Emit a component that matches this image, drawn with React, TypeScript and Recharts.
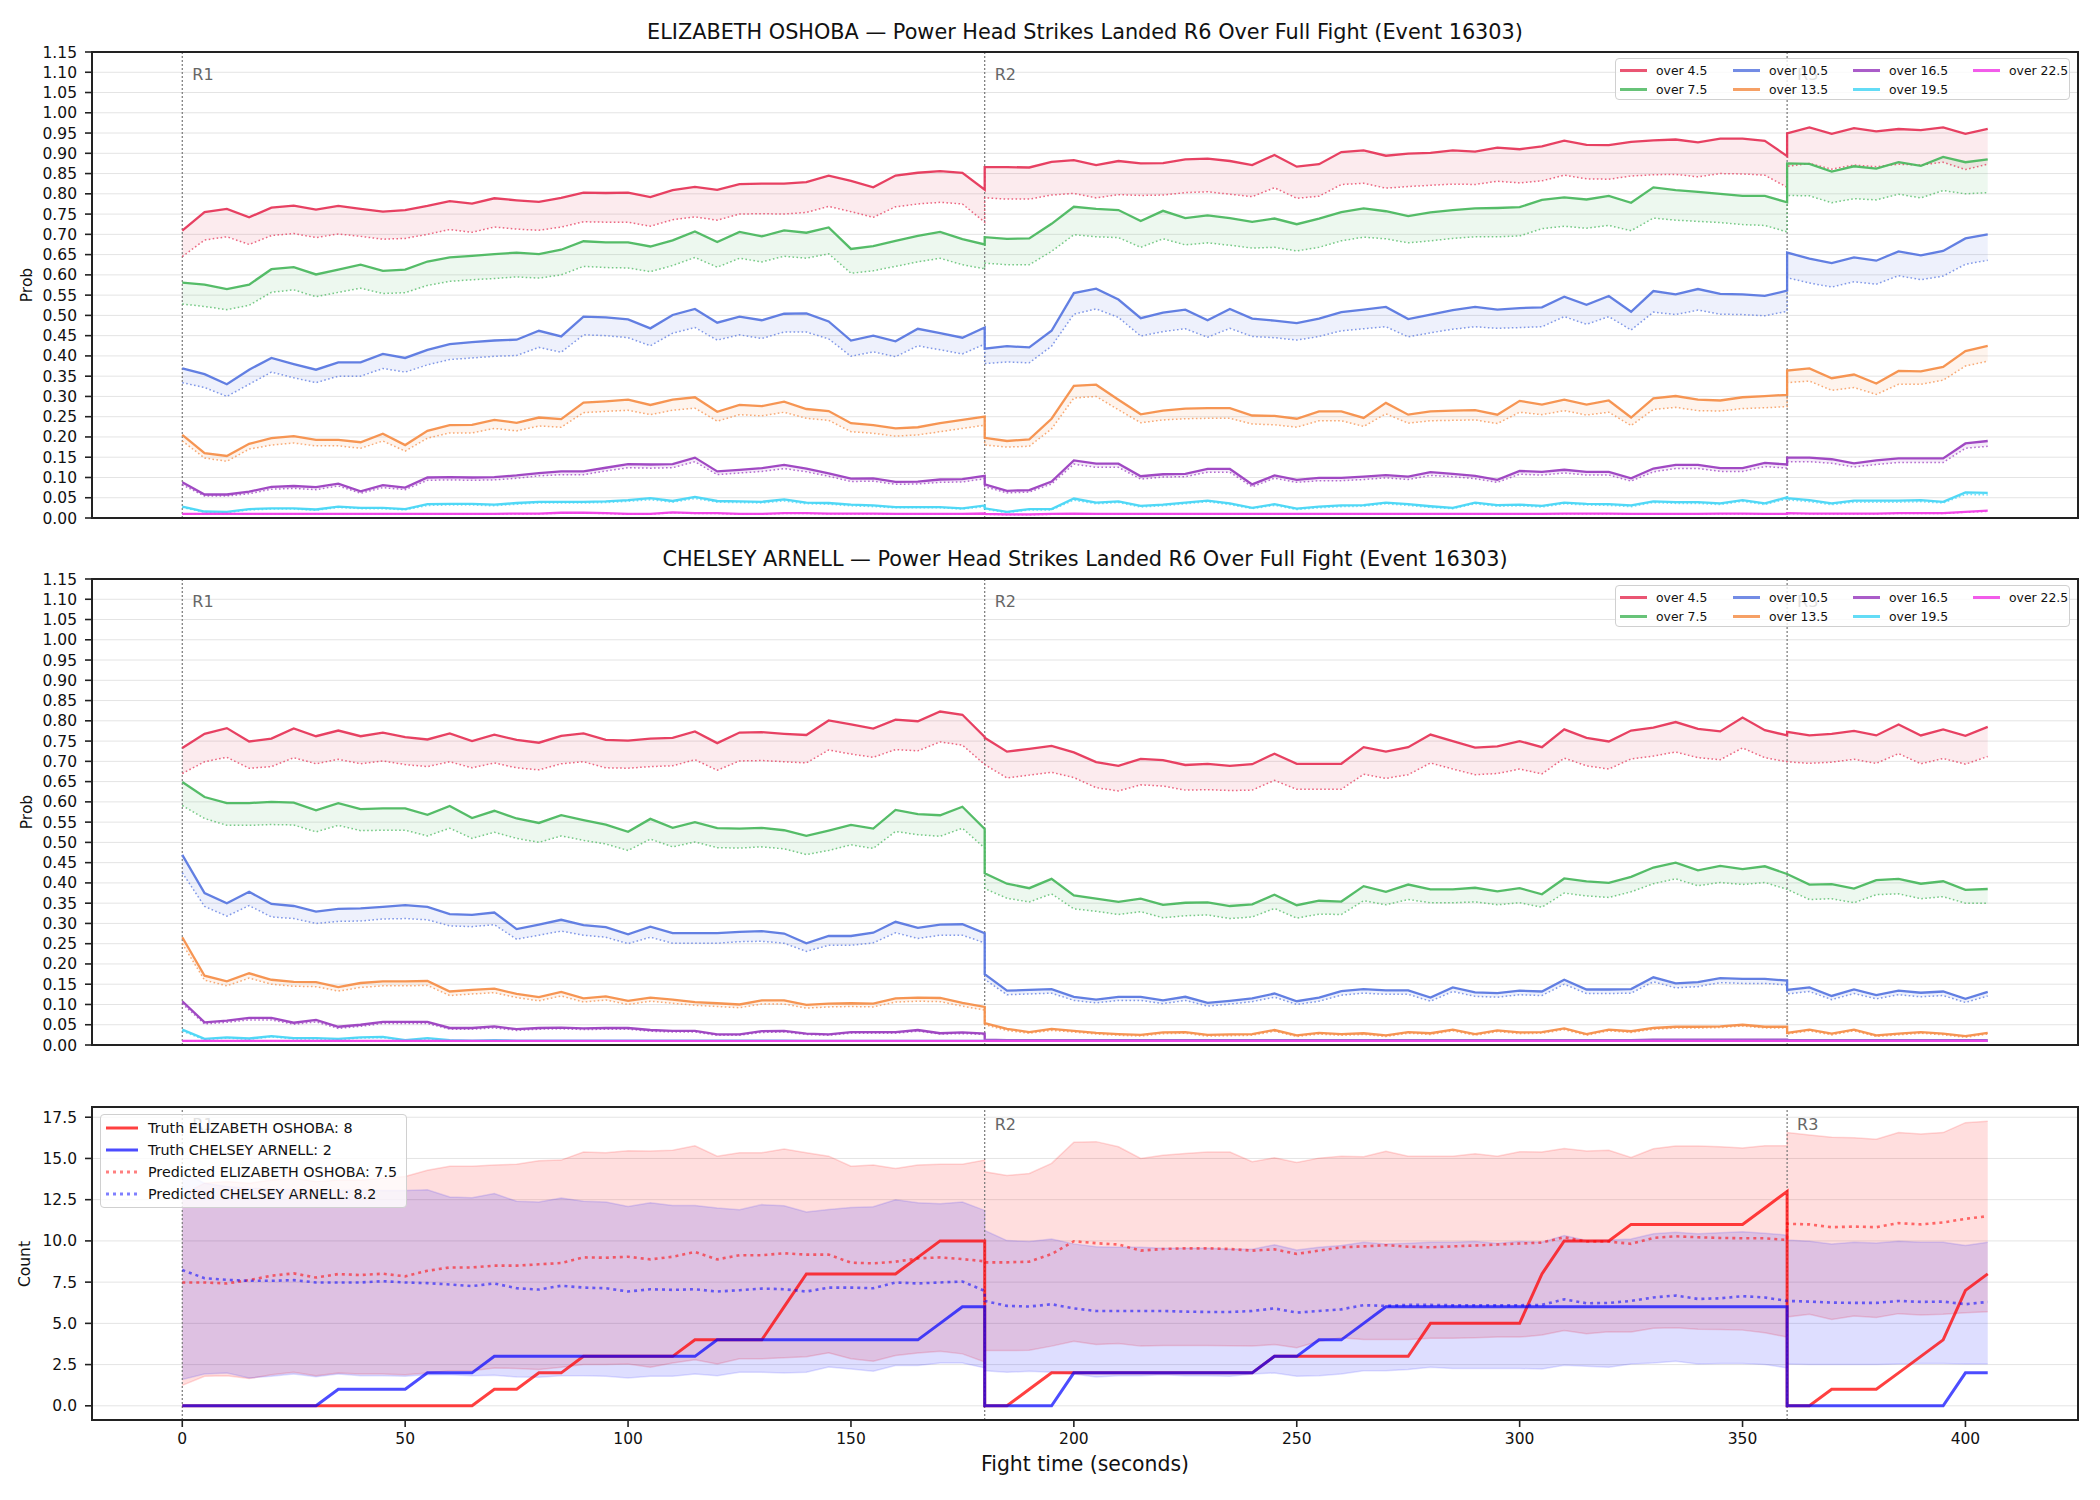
import React from "react";
import { ComposedChart, Line, Area, XAxis, YAxis, CartesianGrid, ReferenceLine } from "recharts";

const FONT = "DejaVu Sans, sans-serif";

// fight time (s): round 1, round 2, round 3 (the boundary seconds appear twice)
const T = [
  0, 5, 10, 15, 20, 25, 30, 35, 40, 45, 50, 55, 60, 65, 70, 75, 80, 85, 90, 95, 100, 105, 110, 115, 120, 125, 130, 135, 140, 145, 150, 155, 160, 165, 170, 175, 180,
  180, 185, 190, 195, 200, 205, 210, 215, 220, 225, 230, 235, 240, 245, 250, 255, 260, 265, 270, 275, 280, 285, 290, 295, 300, 305, 310, 315, 320, 325, 330, 335, 340, 345, 350, 355, 360,
  360, 365, 370, 375, 380, 385, 390, 395, 400, 405,
];

const THRESHOLDS = ["over 4.5", "over 7.5", "over 10.5", "over 13.5", "over 16.5", "over 19.5", "over 22.5"];
const COLORS = ["#e6375a", "#4cb860", "#5a78e0", "#f58f4a", "#9b3fc0", "#48d6f5", "#f040e6"];

const X_TICKS = [0, 50, 100, 150, 200, 250, 300, 350, 400];
const PROB_TICKS = [0, 0.05, 0.1, 0.15, 0.2, 0.25, 0.3, 0.35, 0.4, 0.45, 0.5, 0.55, 0.6, 0.65, 0.7, 0.75, 0.8, 0.85, 0.9, 0.95, 1.0, 1.05, 1.1, 1.15];
const COUNT_TICKS = [0, 2.5, 5, 7.5, 10, 12.5, 15, 17.5];
const ROUNDS = [0, 180, 360];

// ---- ELIZABETH OSHOBA: solid = market, P = predicted ----
const OS_45 = [
  0.709, 0.755, 0.763, 0.742, 0.766, 0.771, 0.761, 0.77, 0.763, 0.756, 0.76, 0.77, 0.782, 0.776, 0.789, 0.784, 0.78, 0.79, 0.803, 0.802, 0.803, 0.792, 0.809, 0.817, 0.81, 0.824, 0.825, 0.825, 0.829, 0.845, 0.832, 0.816, 0.845, 0.852, 0.856, 0.852, 0.81,
  0.866, 0.866, 0.865, 0.879, 0.883, 0.871, 0.881, 0.875, 0.876, 0.885, 0.887, 0.881, 0.871, 0.896, 0.867, 0.873, 0.903, 0.907, 0.894, 0.899, 0.901, 0.907, 0.904, 0.914, 0.91, 0.917, 0.931, 0.921, 0.92, 0.928, 0.932, 0.934, 0.927, 0.936, 0.936, 0.931, 0.893,
  0.949, 0.964, 0.948, 0.962, 0.954, 0.96, 0.957, 0.964, 0.948, 0.96,
];
const OS_45P = [
  0.645, 0.686, 0.694, 0.675, 0.697, 0.702, 0.692, 0.701, 0.695, 0.688, 0.69, 0.7, 0.712, 0.705, 0.718, 0.713, 0.71, 0.718, 0.731, 0.73, 0.73, 0.72, 0.736, 0.743, 0.735, 0.75, 0.751, 0.75, 0.754, 0.769, 0.756, 0.742, 0.768, 0.775, 0.779, 0.775, 0.73,
  0.79, 0.787, 0.787, 0.797, 0.801, 0.79, 0.798, 0.796, 0.797, 0.803, 0.805, 0.799, 0.793, 0.815, 0.789, 0.794, 0.823, 0.826, 0.814, 0.818, 0.821, 0.824, 0.823, 0.831, 0.827, 0.832, 0.846, 0.837, 0.836, 0.844, 0.847, 0.848, 0.842, 0.85, 0.849, 0.846, 0.816,
  0.868, 0.875, 0.861, 0.871, 0.867, 0.873, 0.871, 0.878, 0.86, 0.873,
];
const OS_75 = [
  0.581, 0.576, 0.565, 0.576, 0.614, 0.619, 0.601, 0.613, 0.625, 0.61, 0.613, 0.633, 0.643, 0.647, 0.651, 0.655, 0.651, 0.662, 0.683, 0.68, 0.68, 0.67, 0.685, 0.707, 0.681, 0.706, 0.695, 0.71, 0.704, 0.717, 0.664, 0.671, 0.684, 0.696, 0.706, 0.688, 0.675,
  0.693, 0.689, 0.69, 0.726, 0.768, 0.763, 0.76, 0.733, 0.758, 0.74, 0.747, 0.74, 0.731, 0.739, 0.725, 0.739, 0.755, 0.764, 0.757, 0.745, 0.754, 0.76, 0.764, 0.765, 0.767, 0.785, 0.791, 0.786, 0.795, 0.778, 0.816, 0.809, 0.805, 0.8, 0.795, 0.795, 0.779,
  0.875, 0.874, 0.855, 0.868, 0.862, 0.878, 0.869, 0.891, 0.878, 0.885,
];
const OS_75P = [
  0.528, 0.522, 0.514, 0.525, 0.557, 0.563, 0.546, 0.557, 0.567, 0.554, 0.556, 0.574, 0.584, 0.588, 0.591, 0.595, 0.592, 0.6, 0.621, 0.618, 0.617, 0.608, 0.623, 0.643, 0.619, 0.641, 0.632, 0.646, 0.641, 0.652, 0.604, 0.61, 0.621, 0.632, 0.641, 0.625, 0.615,
  0.629, 0.625, 0.625, 0.658, 0.699, 0.694, 0.692, 0.668, 0.689, 0.674, 0.679, 0.673, 0.666, 0.668, 0.659, 0.668, 0.684, 0.693, 0.689, 0.679, 0.684, 0.69, 0.694, 0.694, 0.696, 0.714, 0.72, 0.715, 0.722, 0.709, 0.74, 0.735, 0.732, 0.729, 0.724, 0.722, 0.706,
  0.796, 0.795, 0.778, 0.788, 0.785, 0.799, 0.79, 0.808, 0.8, 0.803,
];
const OS_105 = [
  0.369, 0.355, 0.33, 0.366, 0.395, 0.38, 0.366, 0.384, 0.384, 0.405, 0.395, 0.415, 0.429, 0.434, 0.438, 0.44, 0.462, 0.448, 0.497, 0.495, 0.49, 0.468, 0.501, 0.516, 0.482, 0.497, 0.488, 0.504, 0.505, 0.485, 0.438, 0.45, 0.436, 0.467, 0.456, 0.445, 0.47,
  0.418, 0.424, 0.421, 0.462, 0.555, 0.566, 0.539, 0.493, 0.507, 0.514, 0.488, 0.516, 0.492, 0.487, 0.481, 0.492, 0.508, 0.514, 0.521, 0.491, 0.502, 0.513, 0.521, 0.514, 0.518, 0.52, 0.546, 0.526, 0.548, 0.509, 0.56, 0.552, 0.565, 0.553, 0.552, 0.548, 0.561,
  0.655, 0.64, 0.629, 0.643, 0.635, 0.658, 0.648, 0.659, 0.69, 0.7,
];
const OS_105P = [
  0.334, 0.322, 0.3, 0.33, 0.36, 0.346, 0.334, 0.35, 0.35, 0.369, 0.36, 0.378, 0.391, 0.395, 0.399, 0.401, 0.421, 0.409, 0.452, 0.45, 0.445, 0.425, 0.456, 0.47, 0.439, 0.452, 0.443, 0.459, 0.459, 0.442, 0.399, 0.41, 0.398, 0.425, 0.415, 0.405, 0.429,
  0.381, 0.385, 0.383, 0.424, 0.503, 0.516, 0.495, 0.449, 0.46, 0.467, 0.446, 0.468, 0.448, 0.445, 0.439, 0.448, 0.462, 0.467, 0.472, 0.447, 0.457, 0.466, 0.472, 0.468, 0.47, 0.472, 0.497, 0.478, 0.497, 0.464, 0.508, 0.502, 0.513, 0.503, 0.502, 0.499, 0.51,
  0.593, 0.58, 0.57, 0.583, 0.577, 0.598, 0.588, 0.597, 0.626, 0.636,
];
const OS_135 = [
  0.205, 0.16, 0.153, 0.183, 0.197, 0.202, 0.193, 0.193, 0.187, 0.208, 0.18, 0.215, 0.229, 0.23, 0.242, 0.235, 0.248, 0.244, 0.285, 0.288, 0.292, 0.279, 0.292, 0.298, 0.262, 0.279, 0.276, 0.287, 0.269, 0.264, 0.234, 0.229, 0.221, 0.224, 0.234, 0.242, 0.25,
  0.198, 0.19, 0.194, 0.245, 0.326, 0.329, 0.292, 0.256, 0.265, 0.27, 0.271, 0.271, 0.253, 0.252, 0.245, 0.263, 0.263, 0.247, 0.284, 0.255, 0.263, 0.265, 0.266, 0.255, 0.289, 0.28, 0.292, 0.28, 0.29, 0.248, 0.295, 0.301, 0.292, 0.29, 0.298, 0.301, 0.304,
  0.364, 0.369, 0.345, 0.354, 0.332, 0.363, 0.362, 0.373, 0.412, 0.425,
];
const OS_135P = [
  0.19, 0.148, 0.14, 0.17, 0.18, 0.185, 0.178, 0.178, 0.172, 0.19, 0.165, 0.197, 0.21, 0.21, 0.221, 0.215, 0.227, 0.224, 0.26, 0.263, 0.266, 0.255, 0.266, 0.271, 0.239, 0.255, 0.252, 0.261, 0.246, 0.241, 0.213, 0.209, 0.202, 0.205, 0.213, 0.221, 0.229,
  0.18, 0.175, 0.177, 0.22, 0.296, 0.3, 0.267, 0.235, 0.242, 0.245, 0.246, 0.246, 0.232, 0.23, 0.224, 0.24, 0.24, 0.226, 0.257, 0.234, 0.24, 0.241, 0.242, 0.233, 0.261, 0.255, 0.265, 0.254, 0.261, 0.228, 0.268, 0.273, 0.265, 0.264, 0.27, 0.272, 0.275,
  0.334, 0.338, 0.315, 0.322, 0.305, 0.33, 0.33, 0.34, 0.375, 0.387,
];
const OS_165 = [
  0.088, 0.058, 0.058, 0.065, 0.077, 0.079, 0.076, 0.085, 0.066, 0.081, 0.075, 0.1, 0.101, 0.1, 0.101, 0.105, 0.111, 0.115, 0.115, 0.124, 0.133, 0.132, 0.133, 0.149, 0.115, 0.119, 0.123, 0.131, 0.122, 0.11, 0.097, 0.098, 0.089, 0.09, 0.095, 0.096, 0.104,
  0.083, 0.067, 0.069, 0.09, 0.142, 0.134, 0.134, 0.103, 0.108, 0.109, 0.121, 0.121, 0.083, 0.105, 0.094, 0.099, 0.099, 0.102, 0.106, 0.102, 0.113, 0.109, 0.104, 0.094, 0.116, 0.114, 0.119, 0.114, 0.114, 0.098, 0.122, 0.131, 0.131, 0.123, 0.123, 0.136, 0.132,
  0.149, 0.149, 0.145, 0.135, 0.142, 0.147, 0.147, 0.147, 0.184, 0.19,
];
const OS_165P = [
  0.082, 0.054, 0.054, 0.06, 0.071, 0.073, 0.07, 0.079, 0.061, 0.075, 0.07, 0.093, 0.094, 0.093, 0.094, 0.098, 0.104, 0.107, 0.107, 0.116, 0.124, 0.123, 0.124, 0.139, 0.107, 0.111, 0.115, 0.122, 0.114, 0.103, 0.09, 0.091, 0.083, 0.084, 0.088, 0.089, 0.097,
  0.077, 0.062, 0.064, 0.084, 0.133, 0.125, 0.125, 0.096, 0.101, 0.102, 0.113, 0.113, 0.077, 0.098, 0.088, 0.092, 0.092, 0.095, 0.099, 0.095, 0.105, 0.102, 0.097, 0.088, 0.108, 0.106, 0.111, 0.106, 0.106, 0.091, 0.114, 0.122, 0.122, 0.115, 0.115, 0.127, 0.123,
  0.139, 0.139, 0.135, 0.126, 0.132, 0.137, 0.137, 0.137, 0.172, 0.177,
];
const OS_195 = [
  0.028, 0.016, 0.015, 0.022, 0.024, 0.024, 0.021, 0.028, 0.025, 0.025, 0.022, 0.034, 0.035, 0.035, 0.033, 0.037, 0.04, 0.04, 0.04, 0.041, 0.044, 0.049, 0.042, 0.052, 0.042, 0.041, 0.04, 0.046, 0.038, 0.037, 0.033, 0.031, 0.027, 0.027, 0.027, 0.024, 0.031,
  0.024, 0.015, 0.022, 0.022, 0.048, 0.038, 0.041, 0.03, 0.033, 0.038, 0.043, 0.036, 0.025, 0.034, 0.023, 0.028, 0.031, 0.032, 0.038, 0.034, 0.029, 0.025, 0.038, 0.032, 0.033, 0.03, 0.038, 0.035, 0.034, 0.031, 0.041, 0.039, 0.039, 0.036, 0.044, 0.036, 0.051,
  0.049, 0.044, 0.036, 0.043, 0.043, 0.043, 0.044, 0.04, 0.063, 0.062,
];
const OS_195P = [
  0.026, 0.014, 0.013, 0.02, 0.022, 0.022, 0.019, 0.026, 0.023, 0.023, 0.02, 0.031, 0.032, 0.032, 0.03, 0.034, 0.037, 0.037, 0.037, 0.038, 0.041, 0.045, 0.039, 0.048, 0.039, 0.038, 0.037, 0.042, 0.035, 0.034, 0.03, 0.028, 0.025, 0.025, 0.025, 0.022, 0.028,
  0.022, 0.013, 0.02, 0.02, 0.044, 0.035, 0.038, 0.027, 0.03, 0.035, 0.04, 0.033, 0.023, 0.031, 0.021, 0.025, 0.028, 0.029, 0.035, 0.031, 0.026, 0.023, 0.035, 0.029, 0.03, 0.027, 0.035, 0.032, 0.031, 0.028, 0.038, 0.036, 0.036, 0.033, 0.041, 0.033, 0.047,
  0.045, 0.04, 0.033, 0.039, 0.039, 0.039, 0.04, 0.037, 0.058, 0.057,
];
const OS_225 = [
  0.01, 0.01, 0.01, 0.01, 0.01, 0.01, 0.01, 0.01, 0.01, 0.01, 0.01, 0.01, 0.01, 0.01, 0.01, 0.011, 0.011, 0.013, 0.013, 0.012, 0.01, 0.01, 0.014, 0.012, 0.012, 0.01, 0.01, 0.012, 0.012, 0.011, 0.011, 0.011, 0.01, 0.01, 0.01, 0.01, 0.011,
  0.01, 0.009, 0.009, 0.01, 0.011, 0.01, 0.01, 0.01, 0.01, 0.01, 0.01, 0.01, 0.01, 0.01, 0.01, 0.01, 0.01, 0.01, 0.01, 0.01, 0.01, 0.01, 0.01, 0.01, 0.01, 0.01, 0.011, 0.011, 0.011, 0.01, 0.01, 0.01, 0.01, 0.011, 0.011, 0.01, 0.01,
  0.012, 0.011, 0.011, 0.011, 0.011, 0.012, 0.012, 0.012, 0.015, 0.018,
];
const OS_225P = [
  0.009, 0.009, 0.009, 0.009, 0.009, 0.009, 0.009, 0.009, 0.009, 0.009, 0.009, 0.009, 0.009, 0.009, 0.009, 0.01, 0.01, 0.012, 0.012, 0.011, 0.009, 0.009, 0.013, 0.011, 0.011, 0.009, 0.009, 0.011, 0.011, 0.01, 0.01, 0.01, 0.009, 0.009, 0.009, 0.009, 0.01,
  0.009, 0.008, 0.008, 0.009, 0.01, 0.009, 0.009, 0.009, 0.009, 0.009, 0.009, 0.009, 0.009, 0.009, 0.009, 0.009, 0.009, 0.009, 0.009, 0.009, 0.009, 0.009, 0.009, 0.009, 0.009, 0.009, 0.01, 0.01, 0.01, 0.009, 0.009, 0.009, 0.009, 0.01, 0.01, 0.009, 0.009,
  0.011, 0.01, 0.01, 0.01, 0.01, 0.011, 0.011, 0.011, 0.014, 0.016,
];

// ---- CHELSEY ARNELL ----
const CH_45 = [
  0.733, 0.768, 0.782, 0.749, 0.756, 0.781, 0.762, 0.776, 0.762, 0.771, 0.76, 0.754, 0.769, 0.75, 0.766, 0.753, 0.746, 0.763, 0.769, 0.753, 0.751, 0.756, 0.758, 0.774, 0.745, 0.771, 0.772, 0.768, 0.765, 0.801, 0.791, 0.781, 0.803, 0.799, 0.823, 0.815, 0.76,
  0.758, 0.724, 0.731, 0.738, 0.722, 0.698, 0.689, 0.706, 0.703, 0.691, 0.694, 0.689, 0.693, 0.719, 0.694, 0.694, 0.694, 0.735, 0.724, 0.735, 0.766, 0.75, 0.734, 0.737, 0.75, 0.735, 0.779, 0.758, 0.749, 0.776, 0.783, 0.797, 0.78, 0.774, 0.808, 0.777, 0.764,
  0.773, 0.764, 0.768, 0.775, 0.764, 0.791, 0.764, 0.779, 0.763, 0.785,
];
const CH_45P = [
  0.67, 0.699, 0.71, 0.683, 0.687, 0.709, 0.694, 0.705, 0.694, 0.701, 0.692, 0.687, 0.699, 0.684, 0.696, 0.684, 0.679, 0.694, 0.699, 0.684, 0.683, 0.687, 0.689, 0.704, 0.678, 0.701, 0.702, 0.699, 0.696, 0.728, 0.718, 0.71, 0.729, 0.726, 0.748, 0.74, 0.692,
  0.692, 0.659, 0.666, 0.673, 0.66, 0.635, 0.627, 0.642, 0.639, 0.629, 0.63, 0.628, 0.629, 0.653, 0.631, 0.631, 0.631, 0.668, 0.658, 0.667, 0.696, 0.681, 0.667, 0.67, 0.681, 0.669, 0.708, 0.689, 0.681, 0.706, 0.713, 0.723, 0.709, 0.704, 0.733, 0.709, 0.699,
  0.699, 0.695, 0.698, 0.705, 0.695, 0.719, 0.694, 0.707, 0.693, 0.712,
];
const CH_75 = [
  0.649, 0.612, 0.597, 0.597, 0.6, 0.598, 0.579, 0.597, 0.582, 0.584, 0.584, 0.568, 0.59, 0.56, 0.578, 0.559, 0.548, 0.567, 0.555, 0.544, 0.526, 0.558, 0.536, 0.55, 0.535, 0.534, 0.536, 0.53, 0.516, 0.529, 0.543, 0.534, 0.58, 0.57, 0.567, 0.588, 0.533,
  0.424, 0.398, 0.387, 0.41, 0.369, 0.361, 0.353, 0.361, 0.346, 0.351, 0.352, 0.343, 0.347, 0.371, 0.345, 0.356, 0.354, 0.392, 0.378, 0.396, 0.384, 0.384, 0.388, 0.379, 0.387, 0.372, 0.411, 0.404, 0.4, 0.415, 0.438, 0.45, 0.431, 0.442, 0.434, 0.441, 0.422,
  0.422, 0.396, 0.397, 0.386, 0.407, 0.41, 0.398, 0.404, 0.383, 0.385,
];
const CH_75P = [
  0.591, 0.559, 0.542, 0.542, 0.544, 0.543, 0.526, 0.542, 0.529, 0.53, 0.53, 0.516, 0.535, 0.51, 0.525, 0.51, 0.5, 0.516, 0.505, 0.496, 0.48, 0.508, 0.489, 0.501, 0.487, 0.486, 0.489, 0.484, 0.47, 0.48, 0.494, 0.485, 0.527, 0.519, 0.515, 0.535, 0.486,
  0.386, 0.362, 0.353, 0.373, 0.336, 0.33, 0.322, 0.329, 0.314, 0.319, 0.321, 0.312, 0.316, 0.337, 0.313, 0.323, 0.322, 0.356, 0.346, 0.359, 0.351, 0.351, 0.353, 0.346, 0.351, 0.34, 0.375, 0.368, 0.364, 0.378, 0.398, 0.41, 0.393, 0.401, 0.396, 0.401, 0.384,
  0.384, 0.359, 0.361, 0.351, 0.371, 0.373, 0.361, 0.366, 0.35, 0.35,
];
const CH_105 = [
  0.469, 0.375, 0.35, 0.378, 0.348, 0.343, 0.329, 0.336, 0.337, 0.341, 0.345, 0.341, 0.323, 0.321, 0.327, 0.286, 0.297, 0.309, 0.296, 0.291, 0.273, 0.292, 0.276, 0.276, 0.276, 0.279, 0.281, 0.275, 0.251, 0.269, 0.269, 0.277, 0.304, 0.289, 0.297, 0.298, 0.276,
  0.175, 0.134, 0.136, 0.138, 0.119, 0.112, 0.119, 0.119, 0.11, 0.119, 0.104, 0.109, 0.115, 0.127, 0.108, 0.117, 0.133, 0.138, 0.135, 0.135, 0.117, 0.142, 0.13, 0.128, 0.134, 0.132, 0.161, 0.137, 0.137, 0.138, 0.167, 0.152, 0.155, 0.165, 0.163, 0.163, 0.159,
  0.136, 0.142, 0.121, 0.137, 0.123, 0.134, 0.129, 0.132, 0.114, 0.131,
];
const CH_105P = [
  0.425, 0.342, 0.318, 0.344, 0.316, 0.312, 0.3, 0.305, 0.306, 0.311, 0.312, 0.309, 0.294, 0.292, 0.297, 0.261, 0.271, 0.281, 0.271, 0.266, 0.25, 0.266, 0.251, 0.251, 0.251, 0.255, 0.256, 0.251, 0.231, 0.246, 0.246, 0.252, 0.277, 0.263, 0.271, 0.271, 0.252,
  0.162, 0.124, 0.126, 0.128, 0.11, 0.104, 0.11, 0.11, 0.102, 0.11, 0.096, 0.101, 0.107, 0.118, 0.1, 0.108, 0.123, 0.128, 0.125, 0.125, 0.108, 0.132, 0.12, 0.118, 0.124, 0.122, 0.15, 0.127, 0.127, 0.128, 0.156, 0.141, 0.144, 0.154, 0.152, 0.152, 0.148,
  0.126, 0.132, 0.112, 0.127, 0.114, 0.124, 0.119, 0.122, 0.105, 0.121,
];
const CH_135 = [
  0.266, 0.171, 0.157, 0.177, 0.161, 0.156, 0.155, 0.143, 0.153, 0.157, 0.157, 0.158, 0.132, 0.136, 0.139, 0.126, 0.118, 0.131, 0.115, 0.12, 0.109, 0.117, 0.112, 0.106, 0.103, 0.1, 0.11, 0.11, 0.099, 0.102, 0.103, 0.102, 0.115, 0.117, 0.116, 0.104, 0.094,
  0.054, 0.04, 0.032, 0.04, 0.035, 0.03, 0.027, 0.025, 0.031, 0.032, 0.025, 0.026, 0.027, 0.037, 0.024, 0.03, 0.027, 0.029, 0.024, 0.032, 0.029, 0.038, 0.027, 0.036, 0.031, 0.032, 0.041, 0.027, 0.038, 0.034, 0.042, 0.045, 0.045, 0.046, 0.05, 0.045, 0.045,
  0.03, 0.038, 0.028, 0.038, 0.024, 0.028, 0.032, 0.028, 0.022, 0.03,
];
const CH_135P = [
  0.25, 0.16, 0.146, 0.165, 0.15, 0.145, 0.144, 0.133, 0.142, 0.146, 0.146, 0.147, 0.122, 0.126, 0.129, 0.117, 0.109, 0.121, 0.106, 0.111, 0.1, 0.108, 0.103, 0.098, 0.095, 0.092, 0.101, 0.101, 0.091, 0.094, 0.095, 0.094, 0.106, 0.108, 0.107, 0.096, 0.086,
  0.05, 0.036, 0.029, 0.036, 0.032, 0.027, 0.024, 0.022, 0.028, 0.029, 0.022, 0.023, 0.024, 0.034, 0.021, 0.027, 0.024, 0.026, 0.021, 0.029, 0.026, 0.035, 0.024, 0.033, 0.028, 0.029, 0.038, 0.024, 0.035, 0.031, 0.039, 0.042, 0.042, 0.043, 0.047, 0.042, 0.042,
  0.027, 0.035, 0.025, 0.035, 0.021, 0.025, 0.029, 0.025, 0.019, 0.027,
];
const CH_165 = [
  0.108, 0.056, 0.06, 0.067, 0.067, 0.055, 0.062, 0.045, 0.05, 0.057, 0.057, 0.057, 0.042, 0.042, 0.046, 0.039, 0.042, 0.043, 0.041, 0.042, 0.042, 0.037, 0.035, 0.035, 0.026, 0.026, 0.034, 0.035, 0.028, 0.026, 0.032, 0.032, 0.032, 0.037, 0.029, 0.031, 0.028,
  0.013, 0.012, 0.012, 0.012, 0.012, 0.012, 0.012, 0.012, 0.012, 0.012, 0.012, 0.012, 0.012, 0.012, 0.012, 0.012, 0.012, 0.012, 0.012, 0.012, 0.012, 0.012, 0.012, 0.012, 0.012, 0.012, 0.012, 0.012, 0.012, 0.012, 0.013, 0.013, 0.013, 0.013, 0.013, 0.013, 0.013,
  0.012, 0.012, 0.012, 0.012, 0.012, 0.012, 0.012, 0.012, 0.012, 0.012,
];
const CH_165P = [
  0.102, 0.052, 0.056, 0.062, 0.062, 0.051, 0.057, 0.041, 0.046, 0.053, 0.053, 0.053, 0.039, 0.039, 0.042, 0.036, 0.039, 0.04, 0.038, 0.039, 0.039, 0.034, 0.032, 0.032, 0.024, 0.024, 0.031, 0.032, 0.026, 0.024, 0.029, 0.029, 0.029, 0.034, 0.027, 0.028, 0.026,
  0.011, 0.011, 0.011, 0.011, 0.011, 0.011, 0.011, 0.011, 0.011, 0.011, 0.011, 0.011, 0.011, 0.011, 0.011, 0.011, 0.011, 0.011, 0.011, 0.011, 0.011, 0.011, 0.011, 0.011, 0.011, 0.011, 0.011, 0.011, 0.011, 0.011, 0.012, 0.012, 0.012, 0.012, 0.012, 0.012, 0.012,
  0.011, 0.011, 0.011, 0.011, 0.011, 0.011, 0.011, 0.011, 0.011, 0.011,
];
const CH_195 = [
  0.038, 0.015, 0.019, 0.016, 0.022, 0.017, 0.017, 0.015, 0.019, 0.02, 0.012, 0.017, 0.012, 0.011, 0.012, 0.011, 0.011, 0.011, 0.011, 0.011, 0.011, 0.011, 0.011, 0.011, 0.011, 0.011, 0.011, 0.011, 0.01, 0.01, 0.01, 0.01, 0.01, 0.01, 0.01, 0.01, 0.01,
  0.01, 0.01, 0.01, 0.01, 0.01, 0.01, 0.01, 0.01, 0.01, 0.01, 0.01, 0.01, 0.01, 0.01, 0.01, 0.01, 0.01, 0.01, 0.01, 0.01, 0.01, 0.01, 0.01, 0.01, 0.01, 0.01, 0.01, 0.01, 0.01, 0.01, 0.01, 0.01, 0.01, 0.01, 0.01, 0.01, 0.01,
  0.01, 0.01, 0.01, 0.01, 0.01, 0.01, 0.01, 0.01, 0.01, 0.01,
];
const CH_195P = [
  0.034, 0.013, 0.017, 0.014, 0.02, 0.015, 0.015, 0.013, 0.017, 0.018, 0.011, 0.015, 0.011, 0.01, 0.011, 0.01, 0.01, 0.01, 0.01, 0.01, 0.01, 0.01, 0.01, 0.01, 0.01, 0.01, 0.01, 0.01, 0.009, 0.009, 0.009, 0.009, 0.009, 0.009, 0.009, 0.009, 0.009,
  0.009, 0.009, 0.009, 0.009, 0.009, 0.009, 0.009, 0.009, 0.009, 0.009, 0.009, 0.009, 0.009, 0.009, 0.009, 0.009, 0.009, 0.009, 0.009, 0.009, 0.009, 0.009, 0.009, 0.009, 0.009, 0.009, 0.009, 0.009, 0.009, 0.009, 0.009, 0.009, 0.009, 0.009, 0.009, 0.009, 0.009,
  0.009, 0.009, 0.009, 0.009, 0.009, 0.009, 0.009, 0.009, 0.009, 0.009,
];
const CH_225 = [
  0.01, 0.01, 0.01, 0.01, 0.01, 0.01, 0.01, 0.01, 0.01, 0.01, 0.01, 0.01, 0.01, 0.01, 0.01, 0.01, 0.01, 0.01, 0.01, 0.01, 0.01, 0.01, 0.01, 0.01, 0.01, 0.01, 0.01, 0.01, 0.01, 0.01, 0.01, 0.01, 0.01, 0.01, 0.01, 0.01, 0.01,
  0.01, 0.01, 0.01, 0.01, 0.01, 0.01, 0.01, 0.01, 0.01, 0.01, 0.01, 0.01, 0.01, 0.01, 0.01, 0.01, 0.01, 0.01, 0.01, 0.01, 0.01, 0.01, 0.01, 0.01, 0.01, 0.01, 0.01, 0.01, 0.01, 0.01, 0.01, 0.01, 0.01, 0.01, 0.01, 0.01, 0.01,
  0.01, 0.01, 0.01, 0.01, 0.01, 0.01, 0.01, 0.01, 0.01, 0.01,
];
const CH_225P = [
  0.009, 0.009, 0.009, 0.009, 0.009, 0.009, 0.009, 0.009, 0.009, 0.009, 0.009, 0.009, 0.009, 0.009, 0.009, 0.009, 0.009, 0.009, 0.009, 0.009, 0.009, 0.009, 0.009, 0.009, 0.009, 0.009, 0.009, 0.009, 0.009, 0.009, 0.009, 0.009, 0.009, 0.009, 0.009, 0.009, 0.009,
  0.009, 0.009, 0.009, 0.009, 0.009, 0.009, 0.009, 0.009, 0.009, 0.009, 0.009, 0.009, 0.009, 0.009, 0.009, 0.009, 0.009, 0.009, 0.009, 0.009, 0.009, 0.009, 0.009, 0.009, 0.009, 0.009, 0.009, 0.009, 0.009, 0.009, 0.009, 0.009, 0.009, 0.009, 0.009, 0.009, 0.009,
  0.009, 0.009, 0.009, 0.009, 0.009, 0.009, 0.009, 0.009, 0.009, 0.009,
];

// ---- bottom panel: counts ----
const TRUTH_O = [
  0, 0, 0, 0, 0, 0, 0, 0, 0, 0, 0, 0, 0, 0, 1, 1, 2, 2, 3, 3, 3, 3, 3, 4, 4, 4, 4, 6, 8, 8, 8, 8, 8, 9, 10, 10, 10,
  0, 0, 1, 2, 2, 2, 2, 2, 2, 2, 2, 2, 2, 3, 3, 3, 3, 3, 3, 3, 5, 5, 5, 5, 5, 8, 10, 10, 10, 11, 11, 11, 11, 11, 11, 12, 13,
  0, 0, 1, 1, 1, 2, 3, 4, 7, 8,
];
const TRUTH_C = [
  0, 0, 0, 0, 0, 0, 0, 1, 1, 1, 1, 2, 2, 2, 3, 3, 3, 3, 3, 3, 3, 3, 3, 3, 4, 4, 4, 4, 4, 4, 4, 4, 4, 4, 5, 6, 6,
  0, 0, 0, 0, 2, 2, 2, 2, 2, 2, 2, 2, 2, 3, 3, 4, 4, 5, 6, 6, 6, 6, 6, 6, 6, 6, 6, 6, 6, 6, 6, 6, 6, 6, 6, 6, 6,
  0, 0, 0, 0, 0, 0, 0, 0, 2, 2,
];
const PRED_O = [
  7.48, 7.48, 7.42, 7.62, 7.89, 8.03, 7.78, 7.99, 7.93, 8.01, 7.85, 8.19, 8.39, 8.39, 8.5, 8.5, 8.58, 8.66, 9.0, 8.98, 9.04, 8.88, 9.04, 9.33, 8.88, 9.13, 9.13, 9.25, 9.17, 9.17, 8.68, 8.64, 8.74, 8.94, 9.0, 8.9, 8.76,
  8.7, 8.7, 8.74, 9.2, 9.98, 9.86, 9.78, 9.41, 9.51, 9.55, 9.55, 9.51, 9.41, 9.49, 9.21, 9.41, 9.61, 9.67, 9.74, 9.65, 9.61, 9.67, 9.72, 9.78, 9.84, 9.9, 10.22, 9.96, 9.96, 9.82, 10.18, 10.28, 10.22, 10.18, 10.16, 10.16, 10.06,
  11.04, 11.0, 10.83, 10.87, 10.83, 11.08, 11.0, 11.12, 11.34, 11.5,
];
const PRED_C = [
  8.23, 7.74, 7.64, 7.58, 7.58, 7.62, 7.48, 7.48, 7.48, 7.56, 7.48, 7.44, 7.36, 7.26, 7.42, 7.13, 7.05, 7.28, 7.17, 7.13, 6.93, 7.07, 7.03, 7.07, 6.93, 7.01, 7.11, 7.07, 6.93, 7.17, 7.17, 7.13, 7.48, 7.42, 7.48, 7.54, 6.97,
  6.36, 6.06, 6.02, 6.16, 5.91, 5.75, 5.75, 5.75, 5.75, 5.71, 5.69, 5.69, 5.75, 5.91, 5.65, 5.75, 5.85, 6.1, 6.06, 6.12, 6.12, 6.1, 6.1, 6.1, 6.1, 6.12, 6.46, 6.22, 6.24, 6.36, 6.57, 6.69, 6.48, 6.52, 6.65, 6.57, 6.36,
  6.36, 6.32, 6.26, 6.24, 6.24, 6.36, 6.3, 6.32, 6.16, 6.3,
];
const BAND_O_HI = [
  12.8, 13.5, 13.6, 13.5, 13.7, 13.8, 13.6, 13.7, 13.7, 13.8, 13.9, 14.29, 14.53, 14.53, 14.6, 14.65, 14.86, 14.9, 15.39, 15.35, 15.47, 15.45, 15.5, 15.77, 15.14, 15.35, 15.35, 15.57, 15.35, 15.14, 14.53, 14.6, 14.39, 14.6, 14.65, 14.65, 14.9,
  14.19, 13.96, 14.09, 14.7, 15.98, 16.02, 15.71, 15.0, 15.2, 15.3, 15.39, 15.39, 14.8, 15.04, 14.76, 15.02, 15.14, 15.1, 15.43, 15.14, 15.14, 15.14, 15.28, 15.14, 15.41, 15.39, 15.61, 15.45, 15.49, 15.06, 15.59, 15.75, 15.75, 15.71, 15.63, 15.77, 15.77,
  16.57, 16.42, 16.28, 16.26, 16.16, 16.57, 16.48, 16.57, 17.17, 17.26,
];
const BAND_O_LO = [
  1.24, 1.79, 1.83, 1.65, 1.89, 2.03, 1.83, 1.99, 1.93, 1.93, 1.89, 1.99, 2.13, 2.13, 2.3, 2.26, 2.2, 2.34, 2.5, 2.5, 2.54, 2.34, 2.6, 2.8, 2.54, 2.85, 2.85, 2.91, 2.97, 3.21, 2.85, 2.7, 3.05, 3.21, 3.31, 3.15, 2.66,
  3.35, 3.35, 3.37, 3.62, 3.92, 3.72, 3.78, 3.62, 3.66, 3.66, 3.66, 3.64, 3.62, 3.72, 3.52, 3.92, 4.13, 4.02, 4.02, 4.02, 4.09, 4.09, 4.13, 4.17, 4.17, 4.29, 4.57, 4.37, 4.49, 4.47, 4.7, 4.74, 4.65, 4.63, 4.59, 4.43, 4.17,
  5.39, 5.55, 5.24, 5.45, 5.35, 5.59, 5.51, 5.55, 5.65, 5.71,
];
const BAND_C_HI = [
  14.2, 13.5, 13.3, 13.2, 13.15, 13.1, 13.05, 13.05, 13.1, 13.05, 13.05, 13.1, 12.66, 12.62, 12.87, 12.4, 12.36, 12.6, 12.4, 12.36, 12.09, 12.32, 12.15, 12.15, 11.99, 11.89, 12.2, 12.13, 11.75, 11.91, 12.03, 12.07, 12.5, 12.32, 12.26, 12.36, 11.85,
  10.63, 10.02, 9.96, 10.12, 9.82, 9.65, 9.61, 9.61, 9.55, 9.55, 9.55, 9.51, 9.49, 9.76, 9.45, 9.61, 9.72, 9.92, 9.82, 9.86, 9.92, 9.92, 9.96, 9.86, 9.96, 9.92, 10.33, 10.02, 10.06, 10.12, 10.43, 10.53, 10.43, 10.49, 10.55, 10.47, 10.35,
  10.06, 9.98, 9.82, 9.92, 9.88, 9.98, 9.92, 9.92, 9.72, 9.92,
];
const BAND_C_LO = [
  1.59, 1.93, 1.99, 1.69, 1.79, 1.93, 1.77, 1.93, 1.83, 1.83, 1.79, 1.89, 1.89, 1.83, 1.85, 1.75, 1.73, 1.83, 1.83, 1.79, 1.69, 1.79, 1.79, 1.93, 1.83, 2.03, 2.03, 1.99, 2.03, 2.36, 2.24, 2.09, 2.44, 2.44, 2.6, 2.6, 2.3,
  2.13, 2.03, 2.09, 2.03, 1.93, 1.75, 1.83, 1.83, 1.89, 1.83, 1.83, 1.79, 1.93, 1.99, 1.79, 1.83, 1.93, 2.13, 2.13, 2.2, 2.34, 2.26, 2.26, 2.26, 2.26, 2.24, 2.46, 2.4, 2.34, 2.54, 2.6, 2.7, 2.54, 2.56, 2.56, 2.5, 2.3,
  2.54, 2.5, 2.5, 2.5, 2.5, 2.54, 2.56, 2.56, 2.54, 2.54,
];

const OS_SOLID = [OS_45, OS_75, OS_105, OS_135, OS_165, OS_195, OS_225];
const OS_PRED = [OS_45P, OS_75P, OS_105P, OS_135P, OS_165P, OS_195P, OS_225P];
const CH_SOLID = [CH_45, CH_75, CH_105, CH_135, CH_165, CH_195, CH_225];
const CH_PRED = [CH_45P, CH_75P, CH_105P, CH_135P, CH_165P, CH_195P, CH_225P];

function probRows(solid: number[][], pred: number[][]) {
  return T.map((t, i) => {
    const r: Record<string, any> = { t };
    solid.forEach((s, k) => {
      r["s" + k] = s[i];
      r["p" + k] = pred[k][i];
      r["b" + k] = [pred[k][i], s[i]];
    });
    return r;
  });
}

const countRows = T.map((t, i) => ({
  t,
  to: TRUTH_O[i],
  tc: TRUTH_C[i],
  po: PRED_O[i],
  pc: PRED_C[i],
  bo: [BAND_O_LO[i], BAND_O_HI[i]],
  bc: [BAND_C_LO[i], BAND_C_HI[i]],
}));

const X_DOMAIN: [number, number] = [-20.25, 425.25];
const PLOT_L = 92;
const PLOT_R = 2078;
const AXIS = { stroke: "#222", strokeWidth: 2 };
const TICKLINE = { stroke: "#222", strokeWidth: 1.6 };
const TICKTXT = { fill: "#111", fontSize: 15.5, fontFamily: FONT };

const roundLabel = (text: string, dy: number) => (p: any) => {
  const vb = p && p.viewBox ? p.viewBox : { x: 0, y: 0 };
  return (
    <text x={vb.x + 10} y={vb.y + dy} fill="#666" fontSize={16} fontFamily={FONT}>
      {text}
    </text>
  );
};

// the four-sided axes box drawn round a plot area
function AxesBox({ top, height }: { top: number; height: number }) {
  return (
    <div
      style={{
        position: "absolute",
        left: PLOT_L - 1,
        top: top - 1,
        width: PLOT_R - PLOT_L + 2,
        height: height + 2,
        boxSizing: "border-box",
        border: "2px solid #222",
        pointerEvents: "none",
      }}
    />
  );
}

function ProbPanel({ plotTop, title, rows }: { plotTop: number; title: string; rows: any[] }) {
  const plotH = 466;
  const mt = 20;
  const xh = 30;
  return (
    <>
      <div style={{ position: "absolute", left: PLOT_L, width: PLOT_R - PLOT_L, top: plotTop - 30.5, textAlign: "center", fontSize: 20.8, lineHeight: 1, color: "#111", whiteSpace: "nowrap" }}>
        {title}
      </div>
      <div style={{ position: "absolute", left: 27.5, top: plotTop + plotH / 2, transform: "translate(-50%,-50%) rotate(-90deg)", fontSize: 15.5, lineHeight: 1, color: "#111" }}>
        Prob
      </div>
      <div style={{ position: "absolute", left: 0, top: plotTop - mt }}>
        <ComposedChart width={2100} height={plotH + mt + xh} data={rows} margin={{ top: mt, right: 22, bottom: 0, left: 22 }}>
          <CartesianGrid vertical={false} stroke="#e4e4e4" strokeWidth={1} />
          <XAxis dataKey="t" type="number" domain={X_DOMAIN} ticks={X_TICKS} allowDataOverflow height={xh} tick={false} tickSize={7} tickLine={TICKLINE} axisLine={AXIS} />
          <YAxis type="number" domain={[0, 1.15]} ticks={PROB_TICKS} interval={0} allowDataOverflow width={70} tickSize={7} tickMargin={8} tickFormatter={(v: number) => v.toFixed(2)} tick={TICKTXT} tickLine={TICKLINE} axisLine={AXIS} />
          {COLORS.map((c, k) => (
            <Area key={"b" + k} dataKey={"b" + k} type="linear" stroke="none" fill={c} fillOpacity={0.1} isAnimationActive={false} />
          ))}
          {ROUNDS.map((x, i) => (
            <ReferenceLine key={"r" + x} x={x} stroke="#777" strokeWidth={1.2} strokeDasharray="2 2" label={roundLabel("R" + (i + 1), 28)} />
          ))}
          {COLORS.map((c, k) => (
            <Line key={"p" + k} dataKey={"p" + k} type="linear" stroke={c} strokeOpacity={0.75} strokeWidth={1.5} strokeDasharray="1.6 2.4" dot={false} isAnimationActive={false} />
          ))}
          {COLORS.map((c, k) => (
            <Line key={"s" + k} dataKey={"s" + k} type="linear" stroke={c} strokeOpacity={0.95} strokeWidth={2.3} dot={false} isAnimationActive={false} />
          ))}
        </ComposedChart>
      </div>
      <AxesBox top={plotTop} height={plotH} />
      <div style={{ position: "absolute", left: 1615, top: plotTop + 5.5, width: 455, height: 42, boxSizing: "border-box", border: "1.5px solid #d0d0d0", borderRadius: 4, background: "rgba(255,255,255,0.8)" }}>
        {THRESHOLDS.map((name, k) => {
          const col = Math.floor(k / 2);
          const row = k % 2;
          const lineX = [4, 117, 237, 357][col];
          return (
            <div key={name} style={{ position: "absolute", left: lineX, top: row === 0 ? 5 : 24, height: 14, display: "flex", alignItems: "center", fontSize: 12.4, color: "#111", whiteSpace: "nowrap" }}>
              <span style={{ display: "inline-block", width: 27, height: 2.6, background: COLORS[k], opacity: 0.85, marginRight: 9 }} />
              {name}
            </div>
          );
        })}
      </div>
    </>
  );
}

function CountPanel() {
  const plotTop = 1107;
  const plotH = 313;
  const mt = 20;
  const xh = 50;
  const items = [
    { label: "Truth ELIZABETH OSHOBA: 8", color: "#ff0000", op: 0.75, dotted: false },
    { label: "Truth CHELSEY ARNELL: 2", color: "#0000ff", op: 0.7, dotted: false },
    { label: "Predicted ELIZABETH OSHOBA: 7.5", color: "#ff0000", op: 0.5, dotted: true },
    { label: "Predicted CHELSEY ARNELL: 8.2", color: "#0000ff", op: 0.5, dotted: true },
  ];
  return (
    <>
      <div style={{ position: "absolute", left: 26, top: plotTop + plotH / 2, transform: "translate(-50%,-50%) rotate(-90deg)", fontSize: 15.5, lineHeight: 1, color: "#111" }}>
        Count
      </div>
      <div style={{ position: "absolute", left: PLOT_L, width: PLOT_R - PLOT_L, top: 1453.5, textAlign: "center", fontSize: 20.4, lineHeight: 1, color: "#111" }}>
        Fight time (seconds)
      </div>
      <div style={{ position: "absolute", left: 0, top: plotTop - mt }}>
        <ComposedChart width={2100} height={plotH + mt + xh} data={countRows} margin={{ top: mt, right: 22, bottom: 0, left: 22 }}>
          <CartesianGrid vertical={false} stroke="#e4e4e4" strokeWidth={1} />
          <XAxis dataKey="t" type="number" domain={X_DOMAIN} ticks={X_TICKS} allowDataOverflow height={xh} tickSize={7} tickMargin={6} tick={TICKTXT} tickLine={TICKLINE} axisLine={AXIS} />
          <YAxis type="number" domain={[-0.86, 18.12]} ticks={COUNT_TICKS} interval={0} allowDataOverflow width={70} tickSize={7} tickMargin={8} tickFormatter={(v: number) => v.toFixed(1)} tick={TICKTXT} tickLine={TICKLINE} axisLine={AXIS} />
          <Area dataKey="bo" type="linear" stroke="#ff0000" strokeOpacity={0.15} strokeWidth={1.5} fill="#ff0000" fillOpacity={0.13} isAnimationActive={false} />
          <Area dataKey="bc" type="linear" stroke="#0000ff" strokeOpacity={0.12} strokeWidth={1.5} fill="#0000ff" fillOpacity={0.13} isAnimationActive={false} />
          {ROUNDS.map((x, i) => (
            <ReferenceLine key={"r" + x} x={x} stroke="#777" strokeWidth={1.2} strokeDasharray="2 2" label={roundLabel("R" + (i + 1), 23)} />
          ))}
          <Line dataKey="to" type="linear" stroke="#ff0000" strokeOpacity={0.75} strokeWidth={3} dot={false} isAnimationActive={false} />
          <Line dataKey="tc" type="linear" stroke="#0000ff" strokeOpacity={0.7} strokeWidth={3} dot={false} isAnimationActive={false} />
          <Line dataKey="po" type="linear" stroke="#ff0000" strokeOpacity={0.55} strokeWidth={2.6} strokeDasharray="3 4" dot={false} isAnimationActive={false} />
          <Line dataKey="pc" type="linear" stroke="#0000ff" strokeOpacity={0.55} strokeWidth={2.6} strokeDasharray="3 4" dot={false} isAnimationActive={false} />
        </ComposedChart>
      </div>
      <AxesBox top={plotTop} height={plotH} />
      <div style={{ position: "absolute", left: 100, top: 1114, width: 307, height: 94, boxSizing: "border-box", border: "1.5px solid #d0d0d0", borderRadius: 4, background: "rgba(255,255,255,0.8)" }}>
        {items.map((it, k) => (
          <div key={it.label} style={{ position: "absolute", left: 5, top: 4 + k * 22.1, height: 18, display: "flex", alignItems: "center", fontSize: 14.3, color: "#111", whiteSpace: "nowrap" }}>
            <svg width={32} height={6} style={{ marginRight: 10 }}>
              <line x1={0} y1={3} x2={32} y2={3} stroke={it.color} strokeOpacity={it.op} strokeWidth={3} strokeDasharray={it.dotted ? "3 4" : undefined} />
            </svg>
            {it.label}
          </div>
        ))}
      </div>
    </>
  );
}

export default function App() {
  const osRows = probRows(OS_SOLID, OS_PRED);
  const chRows = probRows(CH_SOLID, CH_PRED);
  return (
    <div style={{ position: "absolute", left: 0, top: 0, width: 2100, height: 1500, background: "#fff", fontFamily: FONT, overflow: "hidden" }}>
      <ProbPanel plotTop={52} title="ELIZABETH OSHOBA — Power Head Strikes Landed R6 Over Full Fight (Event 16303)" rows={osRows} />
      <ProbPanel plotTop={579} title="CHELSEY ARNELL — Power Head Strikes Landed R6 Over Full Fight (Event 16303)" rows={chRows} />
      <CountPanel />
    </div>
  );
}
